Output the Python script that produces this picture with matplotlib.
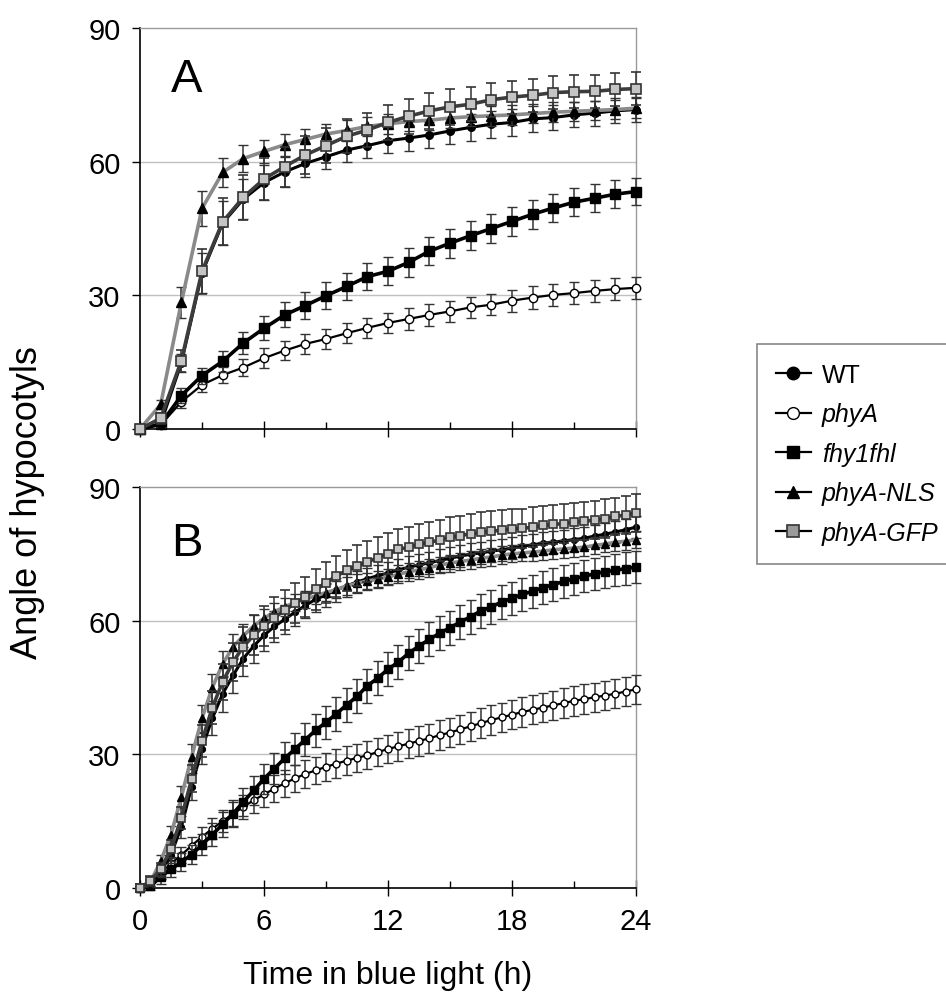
import numpy as np
import matplotlib
matplotlib.use('Agg')
import matplotlib.pyplot as plt
from matplotlib.lines import Line2D

plt.rcParams['font.family'] = ['Liberation Sans', 'DejaVu Sans']

# ---------------- data ----------------
labels = ['WT', 'phyA', 'fhy1fhl', 'phyA-NLS', 'phyA-GFP']
x_ticks = [0, 6, 12, 18, 24]
y_ticks = [0, 30, 60, 90]

# Panel A: hourly
tA = np.arange(0, 25, 1)
A_WT = [0, 1.2, 14.8, 35.0, 46.2, 51.6, 55.3, 57.7, 59.6, 61.1,
        62.6, 63.6, 64.7, 65.3, 66.0, 66.9, 67.7, 68.4, 68.8, 69.6,
        69.9, 70.5, 70.9, 71.4, 71.7]
A_PHYA = [0, 0.9, 6.1, 9.9, 12.1, 13.8, 15.9, 17.6, 19.1, 20.2,
          21.5, 22.7, 23.8, 24.7, 25.6, 26.4, 27.3, 27.9, 28.8, 29.5,
          30.1, 30.5, 31.0, 31.4, 31.7]
A_FHY = [0, 1.1, 7.5, 12.0, 15.2, 19.3, 22.6, 25.6, 27.7, 29.9,
         32.0, 34.2, 35.4, 37.4, 39.9, 41.7, 43.4, 45.0, 46.6, 48.2,
         49.6, 50.9, 51.8, 52.7, 53.3]
A_NLS = [0, 5.5, 28.4, 49.5, 57.6, 60.7, 62.3, 63.8, 65.0, 66.2,
         67.0, 67.9, 68.5, 69.0, 69.3, 69.8, 70.1, 70.3, 70.5, 70.8,
         71.1, 71.3, 71.5, 71.7, 72.0]
A_GFP = [0, 2.4, 15.3, 35.4, 46.5, 52.0, 56.1, 58.9, 61.5, 63.6,
         65.7, 67.1, 68.8, 70.2, 71.4, 72.3, 72.9, 73.9, 74.5, 74.9,
         75.5, 75.7, 75.8, 76.2, 76.4]

A_WT_err = [0.3, 0.8, 2.0, 4.5, 5.0, 4.5, 4.0, 3.3, 3.0, 2.8,
            2.7, 2.7, 2.8, 2.9, 2.9, 3.0, 3.0, 3.0, 3.0, 3.0,
            2.9, 2.8, 2.8, 2.8, 2.8]
A_PHYA_err = [0.3, 0.7, 1.3, 1.6, 1.8, 2.0, 2.2, 2.2, 2.3, 2.3,
              2.3, 2.3, 2.3, 2.4, 2.4, 2.4, 2.4, 2.4, 2.5, 2.5,
              2.5, 2.5, 2.5, 2.5, 2.5]
A_FHY_err = [0.3, 0.8, 1.6, 1.8, 2.3, 2.5, 2.7, 2.8, 3.0, 3.0,
             3.0, 3.1, 3.1, 3.2, 3.2, 3.3, 3.3, 3.3, 3.3, 3.2,
             3.2, 3.2, 3.1, 3.1, 3.1]
A_NLS_err = [0.3, 1.0, 3.4, 4.0, 3.3, 3.0, 2.6, 2.5, 2.4, 2.3,
             2.3, 2.2, 2.2, 2.2, 2.2, 2.2, 2.2, 2.2, 2.2, 2.2,
             2.2, 2.2, 2.2, 2.2, 2.2]
A_GFP_err = [0.5, 1.2, 2.5, 5.0, 5.3, 5.0, 4.8, 4.5, 4.2, 4.0,
             3.8, 3.8, 3.9, 3.9, 4.0, 4.0, 3.8, 3.8, 3.7, 3.7,
             3.7, 3.7, 3.7, 3.7, 3.7]

# Panel B: every half hour
tB = np.arange(0, 24.5, 0.5)
B_WT = [0, 1.0, 3.7, 7.5, 13.7, 22.7, 31.3, 38.1, 43.6, 47.7,
        51.5, 54.3, 56.7, 58.7, 60.3, 61.9, 63.4, 64.8, 65.8, 66.9,
        67.8, 68.7, 69.4, 70.1, 70.7, 71.4, 72.0, 72.5, 73.0, 73.5,
        74.0, 74.5, 74.9, 75.2, 75.6, 75.9, 76.3, 76.7, 77.0, 77.4,
        77.6, 77.9, 78.2, 78.5, 79.0, 79.4, 79.9, 80.4, 81.0]
B_PHYA = [0, 1.0, 3.2, 5.5, 7.4, 9.5, 11.5, 13.3, 15.0, 16.6,
          18.2, 19.7, 21.0, 22.3, 23.5, 24.6, 25.6, 26.4, 27.2, 27.9,
          28.6, 29.2, 29.8, 30.5, 31.2, 31.8, 32.4, 33.0, 33.6, 34.3,
          34.9, 35.6, 36.3, 37.0, 37.7, 38.3, 38.9, 39.5, 40.0, 40.5,
          41.0, 41.5, 42.0, 42.4, 42.8, 43.2, 43.6, 44.1, 44.6]
B_FHY = [0, 0.4, 2.5, 4.2, 5.8, 7.5, 9.7, 12.0, 14.3, 16.7,
         19.3, 21.9, 24.5, 26.8, 29.1, 31.2, 33.3, 35.4, 37.2, 39.1,
         41.1, 43.0, 45.4, 47.1, 49.1, 50.7, 52.7, 54.3, 55.8, 57.2,
         58.4, 59.7, 60.9, 62.2, 63.1, 64.2, 65.0, 65.9, 66.6, 67.4,
         68.1, 68.8, 69.4, 70.0, 70.5, 71.0, 71.3, 71.7, 72.0]
B_NLS = [0, 1.3, 6.0, 12.0, 20.4, 29.5, 38.1, 45.0, 50.3, 54.1,
         56.6, 58.8, 60.5, 62.0, 63.1, 64.1, 64.8, 65.6, 66.3, 67.0,
         67.8, 68.4, 68.9, 69.3, 69.8, 70.4, 71.0, 71.4, 71.9, 72.5,
         72.9, 73.3, 73.6, 74.0, 74.3, 74.7, 75.0, 75.2, 75.4, 75.6,
         75.9, 76.1, 76.3, 76.5, 76.9, 77.2, 77.6, 77.8, 78.2]
B_GFP = [0, 1.6, 4.2, 8.8, 15.7, 24.5, 33.0, 40.5, 46.3, 50.7,
         54.2, 56.7, 58.8, 60.7, 62.3, 63.9, 65.4, 67.0, 68.5, 70.0,
         71.3, 72.3, 73.2, 74.1, 75.0, 76.0, 76.5, 77.1, 77.6, 78.1,
         78.7, 79.1, 79.5, 79.8, 80.1, 80.3, 80.6, 80.7, 81.0, 81.4,
         81.6, 81.8, 82.1, 82.3, 82.6, 82.9, 83.4, 83.7, 84.2]

B_WT_err = [0.5, 0.8, 1.2, 1.8, 2.5, 3.0, 3.5, 3.8, 4.0, 4.0,
            4.0, 3.8, 3.6, 3.4, 3.2, 3.0, 2.9, 2.8, 2.7, 2.6,
            2.6, 2.5, 2.5, 2.5, 2.5, 2.5, 2.5, 2.5, 2.5, 2.5,
            2.5, 2.5, 2.5, 2.5, 2.5, 2.5, 2.5, 2.5, 2.5, 2.5,
            2.5, 2.5, 2.5, 2.5, 2.5, 2.5, 2.5, 2.5, 2.5]
B_PHYA_err = [0.5, 0.8, 1.2, 1.5, 1.8, 2.0, 2.2, 2.4, 2.5, 2.6,
              2.7, 2.8, 2.9, 3.0, 3.0, 3.1, 3.1, 3.1, 3.2, 3.2,
              3.2, 3.2, 3.2, 3.2, 3.2, 3.3, 3.3, 3.3, 3.3, 3.3,
              3.3, 3.3, 3.3, 3.3, 3.3, 3.3, 3.3, 3.3, 3.3, 3.3,
              3.3, 3.3, 3.3, 3.3, 3.3, 3.3, 3.3, 3.3, 3.3]
B_FHY_err = [0.5, 0.8, 1.5, 1.8, 2.0, 2.2, 2.4, 2.6, 2.8, 3.0,
             3.2, 3.3, 3.4, 3.5, 3.6, 3.6, 3.7, 3.7, 3.7, 3.8,
             3.8, 3.8, 3.8, 3.8, 3.8, 3.8, 3.8, 3.8, 3.8, 3.8,
             3.8, 3.8, 3.8, 3.8, 3.8, 3.8, 3.7, 3.7, 3.7, 3.7,
             3.7, 3.7, 3.6, 3.6, 3.6, 3.6, 3.6, 3.6, 3.6]
B_NLS_err = [0.5, 0.8, 1.5, 2.0, 2.5, 2.8, 3.0, 3.0, 3.0, 2.8,
             2.6, 2.4, 2.2, 2.0, 2.0, 1.9, 1.9, 1.9, 1.9, 2.0,
             2.0, 2.0, 1.9, 1.9, 1.9, 2.0, 2.0, 2.0, 2.0, 1.9,
             1.9, 1.9, 2.0, 2.0, 2.0, 2.0, 1.9, 1.9, 1.9, 2.0,
             2.0, 2.0, 2.0, 1.9, 1.9, 1.9, 2.0, 2.0, 2.0]
B_GFP_err = [1.0, 1.2, 1.5, 2.0, 2.5, 3.0, 3.5, 3.8, 4.0, 4.2,
             4.4, 4.5, 4.5, 4.5, 4.5, 4.5, 4.5, 4.5, 4.6, 4.6,
             4.6, 4.6, 4.6, 4.6, 4.6, 4.6, 4.6, 4.6, 4.6, 4.6,
             4.5, 4.5, 4.5, 4.5, 4.5, 4.5, 4.4, 4.4, 4.4, 4.4,
             4.4, 4.4, 4.3, 4.3, 4.3, 4.3, 4.2, 4.2, 4.2]

# ---------------- styles ----------------
styles = {
    'WT':       dict(color='black', lw=2.2, marker='o', mfc='black', mec='black', mew=1.0),
    'phyA':     dict(color='black', lw=1.6, marker='o', mfc='white', mec='black', mew=1.0),
    'fhy1fhl':  dict(color='black', lw=2.6, marker='s', mfc='black', mec='black', mew=1.0),
    'phyA-NLS': dict(color='#8a8a8a', lw=2.6, marker='^', mfc='black', mec='black', mew=1.0),
    'phyA-GFP': dict(color='#3c3c3c', lw=2.6, marker='s', mfc='#c4c4c4', mec='#333333', mew=1.2),
}
msA = {'WT': 5.5, 'phyA': 6.0, 'fhy1fhl': 7.0, 'phyA-NLS': 7.5, 'phyA-GFP': 7.5}
msB = {'WT': 4.2, 'phyA': 5.0, 'fhy1fhl': 5.5, 'phyA-NLS': 6.0, 'phyA-GFP': 6.0}
zorders = {'phyA': 3, 'fhy1fhl': 4, 'WT': 5, 'phyA-NLS': 6, 'phyA-GFP': 7}

W, H = 946, 1004
fig = plt.figure(figsize=(W / 100, H / 100), dpi=100)


def rect(l, t, r, b):
    return [l / W, 1 - b / H, (r - l) / W, (b - t) / H]


axA = fig.add_axes(rect(140, 29, 636, 430))
axB = fig.add_axes(rect(140, 488, 636, 889))

panels = [
    (axA, tA, [A_WT, A_PHYA, A_FHY, A_NLS, A_GFP],
     [A_WT_err, A_PHYA_err, A_FHY_err, A_NLS_err, A_GFP_err], msA, 'A', 0.843),
    (axB, tB, [B_WT, B_PHYA, B_FHY, B_NLS, B_GFP],
     [B_WT_err, B_PHYA_err, B_FHY_err, B_NLS_err, B_GFP_err], msB, 'B', 0.83),
]

for ax, t, ys, errs, ms, letter, ly in panels:
    for lab, y, e in zip(labels, ys, errs):
        st = styles[lab]
        ax.errorbar(t, y, yerr=e, ecolor='#333333', elinewidth=1.1,
                    capsize=3.5, capthick=1.1, ms=ms[lab],
                    zorder=zorders[lab], clip_on=False, **st)
    ax.set_xlim(0, 24)
    ax.set_ylim(0, 90)
    ax.set_xticks(x_ticks)
    ax.set_xticks([3, 9, 15, 21], minor=True)
    ax.set_yticks(y_ticks)
    for yy in (30, 60):
        ax.axhline(yy, color='#c0c0c0', lw=1.0, zorder=0)
    for s in ('left', 'bottom'):
        ax.spines[s].set_color('black')
        ax.spines[s].set_linewidth(1.2)
    for s in ('top', 'right'):
        ax.spines[s].set_color('#9a9a9a')
        ax.spines[s].set_linewidth(1.0)
    ax.tick_params(axis='y', direction='out', length=6, width=1.0,
                   labelsize=21, pad=8)
    ax.tick_params(axis='x', which='major', direction='inout', length=12,
                   width=1.0, labelsize=21, pad=8)
    ax.tick_params(axis='x', which='minor', direction='in', length=5, width=1.0)
    ax.text(0.063, ly, letter, transform=ax.transAxes, fontsize=34,
            va='baseline', ha='left')

axA.tick_params(axis='x', labelbottom=False)

fig.text(28 / W, 1 - 503 / H, 'Angle of hypocotyls', rotation=90,
         ha='center', va='center', fontsize=26)
fig.text(388 / W, 1 - 976 / H, 'Time in blue light (h)',
         ha='center', va='center', fontsize=23)

# legend
leg_ms = {'WT': 9, 'phyA': 8.5, 'fhy1fhl': 8.5, 'phyA-NLS': 9, 'phyA-GFP': 8.5}
handles = []
for lab in labels:
    st = dict(styles[lab])
    st['color'] = 'black'
    st['lw'] = 1.6
    if lab == 'phyA-GFP':
        st['mfc'] = '#9a9a9a'
    handles.append(Line2D([], [], ms=leg_ms[lab], **st))
leg = fig.legend(handles, labels, loc='upper left',
                 bbox_to_anchor=(757 / W, 1 - 345 / H), frameon=True,
                 fancybox=False, edgecolor='#888888', framealpha=1,
                 fontsize=18, handlelength=1.4, borderpad=0.75,
                 labelspacing=0.62, handletextpad=0.45, borderaxespad=0)
leg.get_frame().set_linewidth(1.2)
for txt in leg.get_texts()[1:]:
    txt.set_fontstyle('italic')

fig.savefig('out.png', dpi=100)
